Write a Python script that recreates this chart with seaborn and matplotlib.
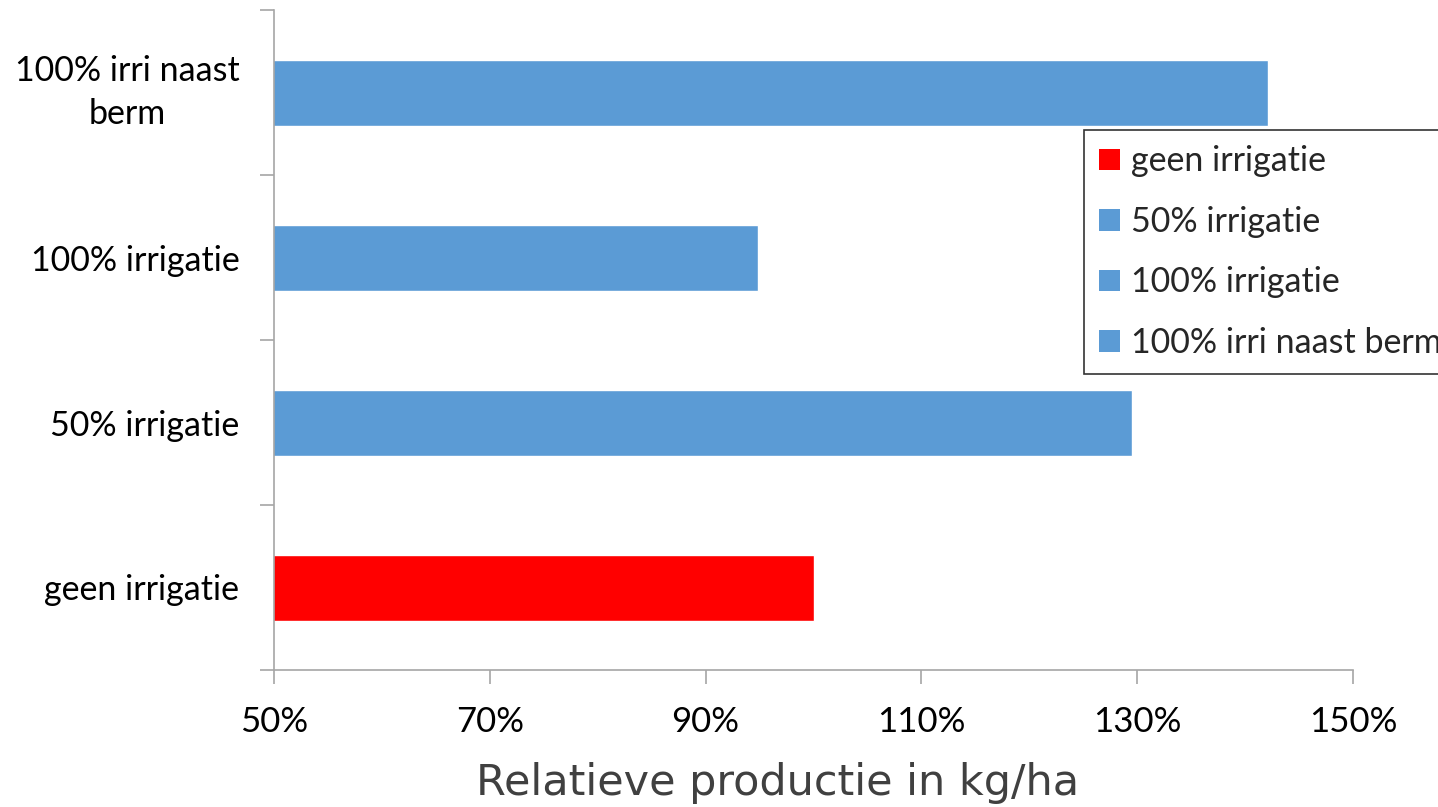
import pandas as pd
import seaborn as sns
import matplotlib.pyplot as plt
from matplotlib.patches import Patch
from matplotlib.ticker import FixedLocator, FuncFormatter

# data (top to bottom)
categories = ['100% irri naast berm', '100% irrigatie', '50% irrigatie', 'geen irrigatie']
tick_labels = ['100% irri naast\nberm', '100% irrigatie', '50% irrigatie', 'geen irrigatie']
production = [142.1, 94.9, 129.5, 100.0]
bar_colors = ['#5B9BD5', '#5B9BD5', '#5B9BD5', '#FF0000']
legend_order = ['geen irrigatie', '50% irrigatie', '100% irrigatie', '100% irri naast berm']

df = pd.DataFrame({'Behandeling': categories, 'Productie': production})
palette = dict(zip(categories, bar_colors))

sns.set_style('white')
plt.rcParams['font.family'] = ['Lato', 'DejaVu Sans']

fig = plt.figure(figsize=(14.38, 8.07), dpi=100)
ax = fig.add_axes([274 / 1438, 1 - 670 / 807, (1353 - 274) / 1438, 660 / 807])

sns.barplot(data=df, x='Productie', y='Behandeling', hue='Behandeling', palette=palette,
            order=categories, width=0.4, dodge=False, legend=False, saturation=1, ax=ax)

ax.set_xlim(50, 150)
ax.set_ylim(3.5, -0.5)
ax.set_xticks(range(50, 151, 20))
ax.xaxis.set_major_formatter(FuncFormatter(lambda v, _: f'{v:.0f}%'))
ax.set_yticks(range(len(categories)))
ax.set_yticklabels(tick_labels, multialignment='center', linespacing=1.4)
ax.get_yticklabels()[0].set_va('center')
ax.yaxis.set_minor_locator(FixedLocator([-0.5, 0.5, 1.5, 2.5, 3.5]))

for side in ['top', 'right']:
    ax.spines[side].set_visible(False)
for side in ['left', 'bottom']:
    ax.spines[side].set_color('#A6A6A6')
    ax.spines[side].set_linewidth(1.2)

ax.tick_params(axis='y', which='major', length=0, labelsize=24.5, pad=25, labelcolor='black')
ax.tick_params(axis='y', which='minor', length=10, width=1.2, color='#A6A6A6', left=True)
ax.tick_params(axis='x', which='major', length=10, width=1.2, color='#A6A6A6',
               bottom=True, labelsize=25, pad=16, labelcolor='black')

ax.set_ylabel('')
ax.set_xlabel('Relatieve productie in kg/ha', fontsize=31, color='#404040',
              family=['DejaVu Sans'])
ax.xaxis.set_label_coords((778 - 274) / 1079, -(783 - 670) / 660, transform=ax.transAxes)
ax.xaxis.label.set_va('center')

handles = [Patch(facecolor=palette[c], edgecolor='none') for c in legend_order]
leg = fig.legend(handles, legend_order, loc='upper left', bbox_to_anchor=(1084 / 1438, 1 - 130 / 807),
                 frameon=True, fancybox=False, fontsize=24.5, handlelength=0.6, handleheight=0.6,
                 handletextpad=0.33, labelspacing=0.84, borderpad=0.45, borderaxespad=0)
leg.get_frame().set_edgecolor('black')
leg.get_frame().set_linewidth(1.2)

fig.savefig('out.png', dpi=100)
